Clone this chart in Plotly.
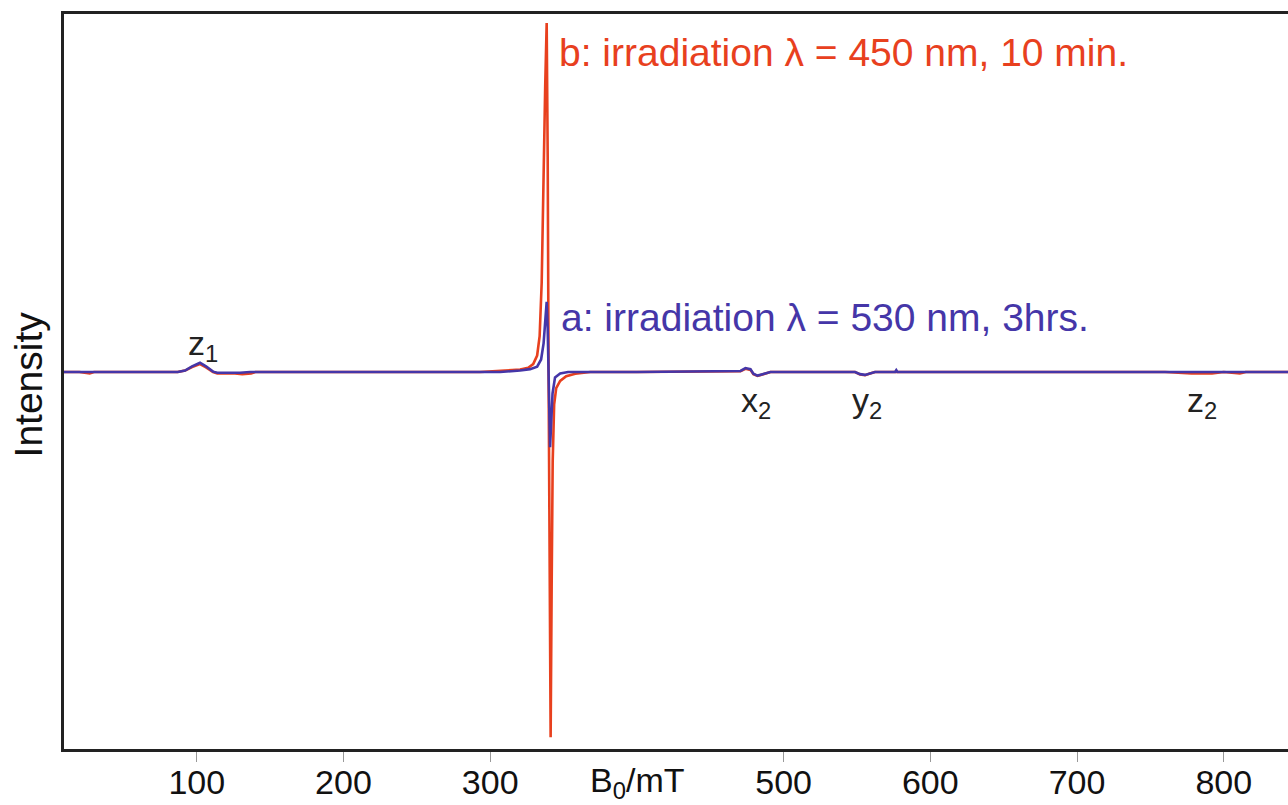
import plotly.graph_objects as go

# ---- data ----
# spectrum b: irradiation 450 nm, 10 min (orange)
b_field_b = [9.5, 20, 27, 30, 60, 87, 92, 96.8, 102.2, 106.3, 111.1, 114, 126, 131, 137, 140,
             200, 260, 293, 310.2, 320.4, 325.9, 329.3, 332.0, 333.7, 335.1, 336.1, 337.5, 338.5,
             339.2, 339.8, 340.5, 341.2, 341.9, 342.6, 343.6, 345.0, 347.7, 351.8, 358.0, 368.2,
             400, 440, 470.6, 474, 477.4, 479.4, 482.2, 485.6, 491, 530, 548.7, 552.1, 555.5,
             558.9, 562.3, 650, 760, 778, 792, 800, 811, 815, 830, 843.8]
int_b = [0.0, 0.0, -0.004, 0.0, 0.0, 0.0, 0.004, 0.014, 0.022, 0.013, 0.0, -0.004, -0.004, -0.006, -0.004, 0.0,
         0.0, 0.0, 0.0, 0.004, 0.007, 0.012, 0.022, 0.046, 0.10, 0.25, 0.50, 0.80, 0.975,
         0.60, 0.0, -0.55, -1.02, -0.60, -0.25, -0.09, -0.045, -0.025, -0.012, -0.005, 0.0,
         0.0, 0.0, 0.002, 0.009, 0.006, -0.006, -0.011, -0.007, 0.0, 0.0, 0.0, -0.007, -0.009,
         -0.004, 0.0, 0.0, 0.0, -0.004, -0.004, 0.0, -0.004, 0.0, 0.0, 0.0]

# spectrum a: irradiation 530 nm, 3 hrs (blue)
b_field_a = [9.5, 60, 87, 92, 96.8, 102.2, 106.3, 111.1, 114, 129.5, 136.3, 200, 306.8, 320.4,
             327.2, 332.0, 334.7, 336.4, 337.8, 338.5, 339.2, 339.7, 340.4, 340.8, 341.5, 342.5,
             344.2, 347.7, 353.1, 400, 470.6, 474, 477.4, 479.4, 482.2, 485.6, 491, 548.7, 552.1,
             555.5, 558.9, 562.3, 576.0, 576.8, 577.6, 700, 843.8]
int_a = [0.0, 0.0, 0.0, 0.004, 0.016, 0.026, 0.016, 0.001, -0.002, -0.002, 0.0, 0.0, 0.0, 0.004,
         0.008, 0.015, 0.035, 0.08, 0.17, 0.196, 0.12, 0.0, -0.15, -0.21, -0.15, -0.06,
         -0.015, -0.004, 0.0, 0.0, 0.003, 0.011, 0.008, -0.005, -0.010, -0.006, 0.0, 0.0, -0.006,
         -0.008, -0.003, 0.0, 0.0, 0.005, 0.0, 0.0, 0.0]

tick_values = [100, 200, 300, 500, 600, 700, 800]
tick_labels = ["100", "200", "300", "500", "600", "700", "800"]

ORANGE = "#E8401E"
BLUE = "#4536A8"
FONT = "Liberation Sans, Arial, sans-serif"

fig = go.Figure()
fig.add_trace(go.Scatter(x=b_field_b, y=int_b, mode="lines",
                         line=dict(color=ORANGE, width=2.6), showlegend=False))
fig.add_trace(go.Scatter(x=b_field_a, y=int_a, mode="lines",
                         line=dict(color=BLUE, width=2.6), showlegend=False))

# annotations
fig.add_annotation(x=345.3, y=0.893, xref="x", yref="y", xanchor="left", yanchor="middle",
                   text="b: irradiation λ = 450 nm, 10 min.", showarrow=False,
                   font=dict(family=FONT, size=39, color=ORANGE))
fig.add_annotation(x=347.0, y=0.153, xref="x", yref="y", xanchor="left", yanchor="middle",
                   text="a: irradiation λ = 530 nm, 3hrs.", showarrow=False,
                   font=dict(family=FONT, size=39, color=BLUE))

peak_labels = [("z<sub>1</sub>", 104.5, 0.075), ("x<sub>2</sub>", 481.5, -0.085),
               ("y<sub>2</sub>", 556.5, -0.085), ("z<sub>2</sub>", 785.5, -0.085)]
for txt, xv, yv in peak_labels:
    fig.add_annotation(x=xv, y=yv, xref="x", yref="y", xanchor="center", yanchor="middle",
                       text=txt, showarrow=False,
                       font=dict(family=FONT, size=34, color="#222222"))

fig.add_annotation(x=400, y=-0.045, xref="x", yref="paper", xanchor="center", yanchor="middle",
                   text="B<sub>0</sub>/mT", showarrow=False,
                   font=dict(family=FONT, size=34, color="#111111"))
fig.add_annotation(x=-0.0294, y=0.496, xref="paper", yref="paper", xanchor="center",
                   yanchor="middle", text="Intensity", textangle=-90, showarrow=False,
                   font=dict(family=FONT, size=39, color="#111111"))

fig.update_xaxes(range=[9.5, 843.8], showgrid=False, zeroline=False, automargin=False,
                 showline=True, linecolor="#222222", linewidth=2.5, mirror=True,
                 tickmode="array", tickvals=tick_values, ticktext=tick_labels,
                 ticks="outside", ticklen=10, tickwidth=1, tickcolor="#999999",
                 ticklabelstandoff=-9,
                 tickfont=dict(family=FONT, size=34, color="#111111"))
fig.update_yaxes(range=[-1.053, 1.0], showgrid=False, zeroline=False, automargin=False,
                 showline=True, linecolor="#222222", linewidth=2.5, mirror=False,
                 showticklabels=False, ticks="")

fig.update_layout(width=1288, height=805, autosize=False,
                  margin=dict(l=64, r=0, t=14, b=56),
                  plot_bgcolor="white", paper_bgcolor="white")

fig.write_html("out.html")
